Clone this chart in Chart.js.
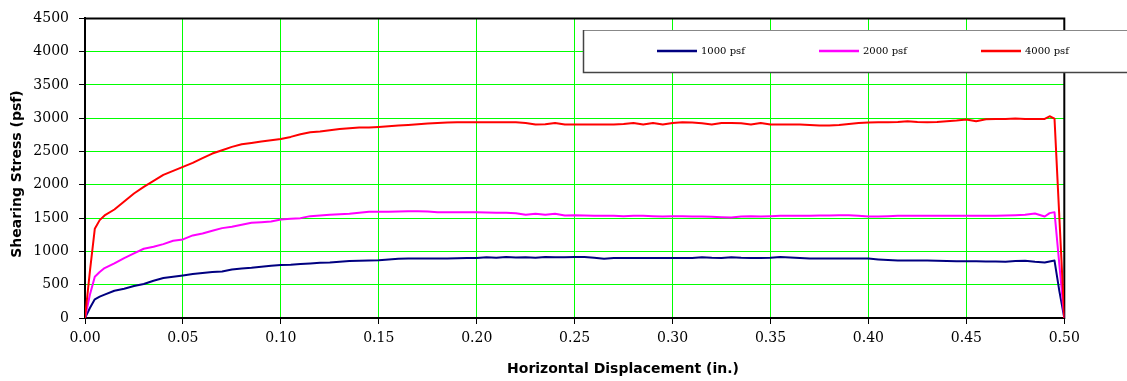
<!DOCTYPE html>
<html>
<head>
<meta charset="utf-8">
<script src="https://cdn.jsdelivr.net/npm/chart.js@4/dist/chart.umd.min.js"></script>
<style>
  html, body { margin: 0; padding: 0; background: #fff; }
  #wrap { width: 1127px; height: 381px; position: relative; }
</style>
</head>
<body>
<div id="wrap"><canvas id="c" width="1127" height="381"></canvas></div>
<script>
// Horizontal displacement (in.)
const displacement = [
  0, 0.0025, 0.005, 0.0075, 0.01, 0.015, 0.02, 0.025, 0.03, 0.035,
  0.04, 0.045, 0.05, 0.055, 0.06, 0.065, 0.07, 0.075, 0.08, 0.085,
  0.09, 0.095, 0.10, 0.105, 0.11, 0.115, 0.12, 0.125, 0.13, 0.135,
  0.14, 0.145, 0.15, 0.155, 0.16, 0.165, 0.17, 0.175, 0.18, 0.185,
  0.19, 0.195, 0.20, 0.205, 0.21, 0.215, 0.22, 0.225, 0.23, 0.235,
  0.24, 0.245, 0.25, 0.255, 0.26, 0.265, 0.27, 0.275, 0.28, 0.285,
  0.29, 0.295, 0.30, 0.305, 0.31, 0.315, 0.32, 0.325, 0.33, 0.335,
  0.34, 0.345, 0.35, 0.355, 0.36, 0.365, 0.37, 0.375, 0.38, 0.385,
  0.39, 0.395, 0.40, 0.405, 0.41, 0.415, 0.42, 0.425, 0.43, 0.435,
  0.44, 0.445, 0.45, 0.455, 0.46, 0.465, 0.47, 0.475, 0.48, 0.485,
  0.49, 0.4925, 0.495, 0.4975, 0.5
];

// Shearing stress (psf) for each normal stress
const stress1000 = [
  0, 150, 280, 320, 350, 410, 440, 480, 510, 560,
  600, 620, 640, 660, 675, 690, 700, 730, 745, 755,
  770, 785, 795, 800, 810, 820, 830, 835, 845, 855,
  860, 865, 868, 880, 890, 893, 893, 893, 893, 895,
  898, 900, 902, 912, 905, 917, 910, 912, 905, 917,
  912, 912, 917, 917, 905, 890, 900, 902, 902, 902,
  902, 902, 902, 902, 902, 912, 905, 902, 912, 905,
  902, 902, 905, 917, 910, 900, 893, 893, 893, 893,
  893, 893, 893, 880, 870, 863, 863, 863, 863, 860,
  855, 853, 853, 853, 850, 850, 845, 855, 860, 845,
  835, 850, 862, 400, 0
];
const stress2000 = [
  0, 350, 620, 690, 750, 820, 900, 970, 1040, 1070,
  1110, 1160, 1180, 1240, 1270, 1310, 1350, 1370, 1400, 1430,
  1440, 1450, 1480, 1490, 1500, 1530, 1540, 1550, 1560, 1565,
  1580, 1595, 1595, 1595, 1600, 1605, 1605, 1600, 1590, 1590,
  1590, 1590, 1590, 1585, 1580, 1580, 1575, 1550, 1565, 1550,
  1565, 1540, 1545, 1540, 1535, 1535, 1535, 1530, 1535, 1535,
  1530, 1525, 1530, 1530, 1525, 1525, 1520, 1515, 1510, 1525,
  1530, 1525, 1530, 1535, 1535, 1535, 1535, 1540, 1540, 1545,
  1545, 1535, 1525, 1525, 1530, 1535, 1535, 1535, 1535, 1535,
  1535, 1535, 1535, 1535, 1535, 1535, 1540, 1545, 1550, 1570,
  1525, 1575, 1590, null, 0
];
const stress4000 = [
  0, 700, 1340, 1470, 1540, 1630, 1750, 1870, 1970, 2060,
  2150, 2210, 2270, 2330, 2400, 2470, 2520, 2570, 2610, 2630,
  2650, 2670, 2690, 2720, 2760, 2790, 2800, 2820, 2840, 2850,
  2860, 2860, 2870, 2880, 2890, 2900, 2910, 2920, 2930, 2935,
  2940, 2940, 2940, 2940, 2940, 2940, 2940, 2930, 2905, 2910,
  2930, 2905, 2905, 2905, 2905, 2905, 2905, 2915, 2930, 2905,
  2930, 2905, 2930, 2940, 2935, 2925, 2905, 2930, 2930, 2925,
  2905, 2930, 2905, 2905, 2905, 2905, 2900, 2890, 2890, 2900,
  2915, 2930, 2935, 2940, 2940, 2945, 2955, 2945, 2940, 2945,
  2955, 2965, 2980, 2955, 2985, 2990, 2990, 2995, 2990, 2990,
  2990, 3030, 2995, null, 0
];

const seriesLabels = ['1000 psf', '2000 psf', '4000 psf'];
const seriesColors = ['#000080', '#FF00FF', '#FF0000'];
const seriesValues = [stress1000, stress2000, stress4000];
const yTicks = [0, 500, 1000, 1500, 2000, 2500, 3000, 3500, 4000, 4500];
const xTicks = [0, 0.05, 0.10, 0.15, 0.20, 0.25, 0.30, 0.35, 0.40, 0.45, 0.50];
const xTitle = 'Horizontal Displacement (in.)';
const yTitle = 'Shearing Stress (psf)';

function toPoints(ys) {
  const pts = [];
  ys.forEach((v, i) => { if (v !== null) pts.push({ x: displacement[i], y: v }); });
  return pts;
}

const framePlugin = {
  id: 'frame',
  beforeDatasetsDraw(chart) {
    const { ctx, chartArea: a } = chart;
    ctx.save();
    ctx.strokeStyle = '#000';
    ctx.lineWidth = 2;
    ctx.beginPath();
    ctx.moveTo(a.left - 1, a.top);
    ctx.lineTo(a.right, a.top);
    ctx.lineTo(a.right, a.bottom + 1);
    ctx.stroke();
    ctx.restore();
  }
};

const axisTitles = {
  id: 'axisTitles',
  afterDraw(chart) {
    const { ctx } = chart;
    ctx.save();
    ctx.fillStyle = '#000';
    ctx.font = 'bold 14px "DejaVu Sans"';
    ctx.textAlign = 'center';
    ctx.textBaseline = 'middle';
    ctx.fillText(xTitle, 623, 369);
    ctx.translate(17, 174);
    ctx.rotate(-Math.PI / 2);
    ctx.fillText(yTitle, 0, 0);
    ctx.restore();
  }
};

const boxLegend = {
  id: 'boxLegend',
  afterDraw(chart) {
    const { ctx } = chart;
    ctx.save();
    const bx = 583, by = 30, bw = 600, bh = 42;
    ctx.fillStyle = '#fff';
    ctx.fillRect(bx, by, bw, bh);
    ctx.strokeStyle = '#888';
    ctx.lineWidth = 1;
    ctx.strokeRect(bx + 0.5, by + 0.5, bw, bh);
    ctx.strokeStyle = '#444';
    ctx.lineWidth = 1.5;
    ctx.beginPath();
    ctx.moveTo(bx + 0.5, by);
    ctx.lineTo(bx + 0.5, by + bh + 0.5);
    ctx.lineTo(bx + bw, by + bh + 0.5);
    ctx.stroke();
    ctx.font = '10px "DejaVu Serif"';
    ctx.textBaseline = 'middle';
    ctx.textAlign = 'left';
    chart.data.datasets.forEach((ds, i) => {
      const lx = 657 + i * 162;
      const ly = 51;
      ctx.strokeStyle = ds.borderColor;
      ctx.lineWidth = 2.5;
      ctx.beginPath();
      ctx.moveTo(lx, ly);
      ctx.lineTo(lx + 40, ly);
      ctx.stroke();
      ctx.fillStyle = '#000';
      ctx.fillText(ds.label, lx + 44, ly + 0.5);
    });
    ctx.restore();
  }
};

new Chart(document.getElementById('c'), {
  type: 'line',
  data: {
    datasets: seriesLabels.map((lab, i) => ({
      label: lab,
      data: toPoints(seriesValues[i]),
      borderColor: seriesColors[i],
      backgroundColor: seriesColors[i],
      borderWidth: 2,
      pointRadius: 0,
      tension: 0,
      fill: false,
      spanGaps: true,
      borderJoinStyle: 'round',
      order: 3 - i
    }))
  },
  options: {
    responsive: false,
    animation: false,
    devicePixelRatio: 1,
    layout: { padding: { left: 0, right: 62.7, top: 14, bottom: 0 } },
    plugins: { legend: { display: false }, tooltip: { enabled: false } },
    scales: {
      x: {
        type: 'linear',
        min: 0, max: 0.5,
        afterBuildTicks(scale) { scale.ticks = xTicks.map(v => ({ value: v })); },
        afterFit(scale) { scale.height = 63; },
        ticks: {
          color: '#000',
          font: { family: '"DejaVu Serif"', size: 14 },
          padding: 6,
          maxRotation: 0,
          callback: v => Number(v).toFixed(2)
        },
        grid: { color: '#00FF00', lineWidth: 1, tickColor: '#000', tickLength: 6, tickWidth: 1 },
        border: { color: '#000', width: 2 },
        title: { display: false, text: xTitle }
      },
      y: {
        min: 0, max: 4500,
        afterBuildTicks(scale) { scale.ticks = yTicks.map(v => ({ value: v })); },
        afterFit(scale) { scale.width = 85; },
        ticks: {
          color: '#000',
          font: { family: '"DejaVu Serif"', size: 14 },
          padding: 10,
          callback: v => String(v)
        },
        grid: { color: '#00FF00', lineWidth: 1, tickColor: '#000', tickLength: 6, tickWidth: 1 },
        border: { color: '#000', width: 2 },
        title: { display: false, text: yTitle }
      }
    }
  },
  plugins: [framePlugin, axisTitles, boxLegend]
});
</script>
</body>
</html>
